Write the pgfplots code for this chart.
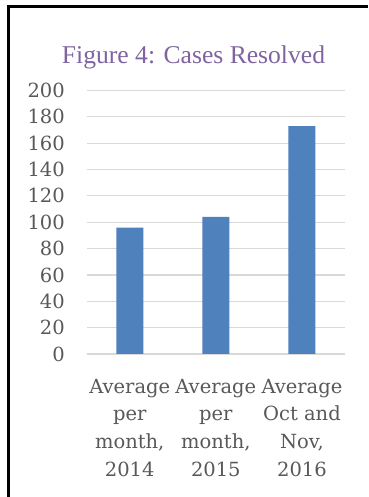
\documentclass[border=0pt]{standalone}
\usepackage{pgfplots}
\pgfplotsset{compat=1.18}
\usepackage{fontspec}
\setmainfont{DejaVu Serif}
\newfontfamily\titlefont{Liberation Serif}
\definecolor{barblue}{HTML}{4F81BD}
\definecolor{titlepurple}{HTML}{8064A2}
\definecolor{ticktext}{HTML}{595959}
\definecolor{gridgray}{HTML}{D9D9D9}
\begin{document}
\begin{tikzpicture}[x=1pt,y=1pt]
\useasboundingbox (0,0) rectangle (368,497);
\fill[white] (0,0) rectangle (368,497);
\draw[line width=3pt, line join=miter] (8,0) -- (8,490.7) -- (368,490.7);
\node[anchor=base, font=\titlefont\fontsize{25.6}{30}\selectfont, text=titlepurple, inner sep=0pt] at (193.5,433.7) {Figure 4: Cases Resolved};
\begin{axis}[
  at={(86.7pt,143pt)}, anchor=south west,
  scale only axis, width=258.3pt, height=263.5pt,
  xmin=-0.5, xmax=2.5, ymin=0, ymax=200,
  ytick={0,20,...,200}, xtick={0,1,2},
  xticklabels={{Average\\per\\month,\\2014},{Average\\per\\month,\\2015},{Average\\Oct and\\Nov,\\2016}},
  ymajorgrids, grid style={gridgray, line width=1.2pt},
  axis line style={draw=none}, tick style={draw=none},
  /pgf/number format/assume math mode=true,
  yticklabel style={font=\fontsize{19.5}{23}\selectfont, text=ticktext, inner sep=0pt, anchor=east, xshift=-21.7pt},
  xticklabel style={align=center, font=\fontsize{19.5}{27.6}\selectfont, text=ticktext, inner sep=0pt, anchor=north, yshift=-20.7pt},
  ybar, bar width=27pt, clip=false,
]
\addplot[fill=barblue, draw=none] coordinates {(0,96) (1,104) (2,173)};
\end{axis}
\end{tikzpicture}
\end{document}
